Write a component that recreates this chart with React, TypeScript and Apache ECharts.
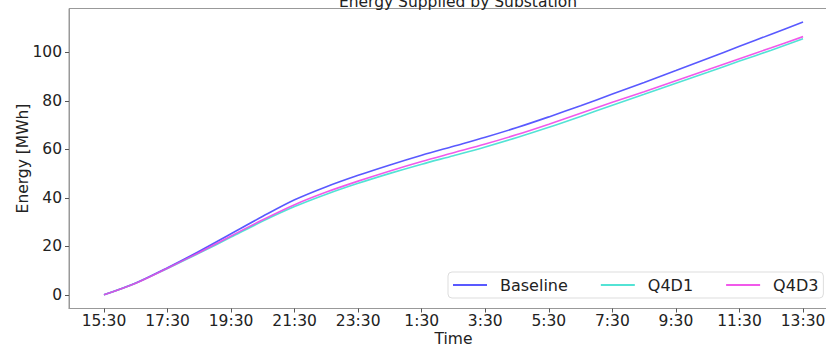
import React, { useEffect, useRef } from "react";
import * as echarts from "echarts";

// hourly samples from 15:30 to 13:30 next day
const times = [
  "15:30", "16:30", "17:30", "18:30", "19:30", "20:30", "21:30", "22:30", "23:30", "0:30", "1:30", "2:30",
  "3:30", "4:30", "5:30", "6:30", "7:30", "8:30", "9:30", "10:30", "11:30", "12:30", "13:30",
];
const baseline = [0, 4.9, 11.2, 18, 25.2, 32.4, 39.2, 44.6, 49.3, 53.6, 57.6, 61.3, 65, 69, 73.4, 78, 82.8, 87.6, 92.5, 97.5, 102.5, 107.5, 112.5];
const q4d3 = [0, 4.8, 11.0, 17.5, 24.3, 31.0, 37.2, 42.4, 46.9, 51.1, 55, 58.6, 62.2, 66.1, 70.4, 74.9, 79.4, 83.8, 88.3, 92.8, 97.4, 101.9, 106.5];
const q4d1 = [0, 4.8, 10.9, 17.2, 23.8, 30.4, 36.4, 41.5, 46, 50.1, 53.9, 57.4, 61, 64.9, 69.1, 73.6, 78.2, 82.7, 87.3, 91.8, 96.4, 100.9, 105.6];
const xTicks = [0, 2, 4, 6, 8, 10, 12, 14, 16, 18, 20, 22];
const yTicks = [0, 20, 40, 60, 80, 100];

const FONT = "DejaVu Sans";

export default function App() {
  const ref = useRef<HTMLDivElement>(null);
  useEffect(() => {
    if (!ref.current) return;
    const chart = echarts.init(ref.current, null, { renderer: "svg" });
    const toPts = (arr: number[]) => arr.map((v, i) => [i, v]);
    const mk = (name: string, arr: number[], color: string) => ({
      name,
      type: "line",
      data: toPts(arr),
      showSymbol: false,
      symbol: "none",
      smooth: 0.3,
      lineStyle: { color, width: 1.6 },
      itemStyle: { color },
    });
    chart.setOption({
      animation: false,
      title: {
        text: "Energy Supplied by Substation",
        left: 453,
        textAlign: "center",
        top: -11,
        textStyle: { fontFamily: FONT, fontSize: 15.5, fontWeight: "normal", color: "#222" },
      },
      grid: {
        left: 69,
        right: -12,
        top: 8.5,
        bottom: 346 - 308.5,
        show: true,
        borderColor: "#999",
        borderWidth: 1,
        containLabel: false,
        outerBoundsMode: "none",
      },
      legend: {
        left: 448,
        top: 272,
        padding: [5, 5, 5, 5],
        itemGap: 33,
        itemWidth: 34,
        itemHeight: 2,
        icon: "rect",
        borderColor: "#ddd",
        borderWidth: 1,
        borderRadius: 4,
        backgroundColor: "rgba(255,255,255,0.85)",
        textStyle: { fontFamily: FONT, fontSize: 16, color: "#222", padding: [0, 0, 0, 8] },
        data: ["Baseline", "Q4D1", "Q4D3"],
      },
      xAxis: {
        type: "value",
        min: -1.1,
        max: 23.1,
        name: "Time",
        nameLocation: "middle",
        nameGap: 22,
        nameMoveOverlap: false,
        nameTextStyle: { fontFamily: FONT, fontSize: 15.5, color: "#222" },
        axisLine: { show: true, onZero: false, lineStyle: { color: "#999" } },
        axisTick: { show: true, length: 4, lineStyle: { color: "#555" }, customValues: xTicks },
        axisLabel: {
          customValues: xTicks,
          margin: 4,
          fontFamily: FONT,
          fontSize: 15.5,
          color: "#222",
          formatter: (v: number) => times[Math.round(v)] ?? "",
        },
        splitLine: { show: false },
      },
      yAxis: {
        type: "value",
        min: -5.63,
        max: 118.1,
        name: "Energy [MWh]",
        nameLocation: "middle",
        nameGap: 38,
        nameMoveOverlap: false,
        nameTextStyle: { fontFamily: FONT, fontSize: 15.5, color: "#222" },
        axisLine: { show: true, onZero: false, lineStyle: { color: "#999" } },
        axisTick: { show: true, length: 4, lineStyle: { color: "#555" }, customValues: yTicks },
        axisLabel: {
          customValues: yTicks,
          margin: 7,
          fontFamily: FONT,
          fontSize: 15.5,
          color: "#222",
        },
        splitLine: { show: false },
      },
      series: [
        mk("Baseline", baseline, "rgba(60,60,255,0.85)"),
        mk("Q4D1", q4d1, "rgba(64,224,208,0.9)"),
        mk("Q4D3", q4d3, "rgba(238,60,230,0.85)"),
      ],
    });
    return () => chart.dispose();
  }, []);
  return (
    <div
      ref={ref}
      style={{ position: "fixed", left: 0, top: 0, width: 826, height: 346, background: "#fff" }}
    />
  );
}
